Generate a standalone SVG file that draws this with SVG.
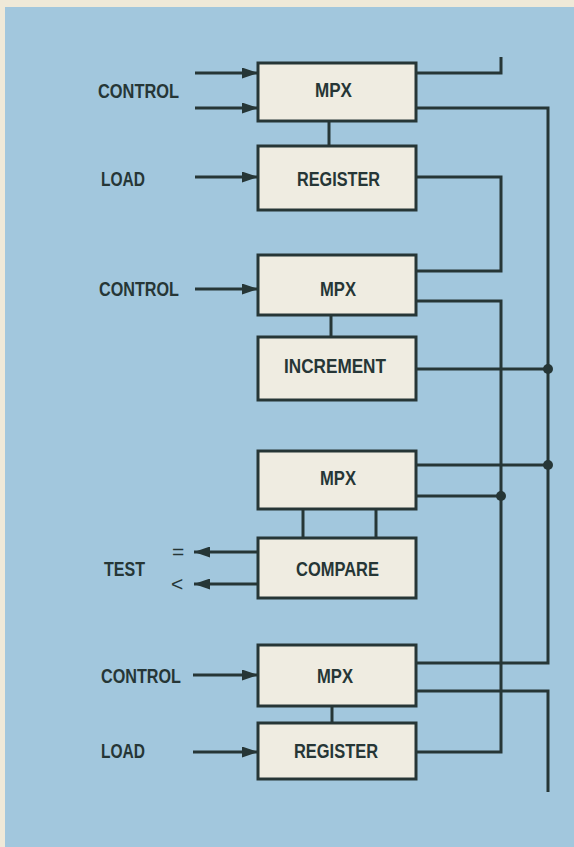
<svg xmlns="http://www.w3.org/2000/svg" width="574" height="847" viewBox="0 0 574 847">
<style>
.box{fill:#efece1;stroke:#263636;stroke-width:3}
.ln{fill:none;stroke:#263636;stroke-width:3}
.t{font-family:"Liberation Sans",Arial,sans-serif;font-weight:bold;font-size:21px;fill:#263636}
.s{font-family:"Liberation Sans",Arial,sans-serif;font-size:21px;fill:#263636}
.dot{fill:#263636}
</style>
<defs>
<marker id="ah" viewBox="0 0 16 11" refX="16" refY="5.5" markerWidth="16" markerHeight="11" markerUnits="userSpaceOnUse" orient="auto">
<path d="M0,0 L16,5.5 L0,11 z" fill="#263636"/>
</marker>
</defs>
<rect x="0" y="0" width="574" height="847" fill="#efe9d8"/>
<rect x="5" y="7" width="569" height="840" fill="#a2c7dd"/>

<g id="labels">
<text class="t" x="98" y="98" textLength="81" lengthAdjust="spacingAndGlyphs">CONTROL</text>
<text class="t" x="101" y="186" textLength="44" lengthAdjust="spacingAndGlyphs">LOAD</text>
<text class="t" x="99" y="296" textLength="80" lengthAdjust="spacingAndGlyphs">CONTROL</text>
<text class="t" x="104" y="576" textLength="41" lengthAdjust="spacingAndGlyphs">TEST</text>
<text class="s" x="172" y="559">=</text>
<text class="s" x="171" y="591">&lt;</text>
<text class="t" x="101" y="683" textLength="80" lengthAdjust="spacingAndGlyphs">CONTROL</text>
<text class="t" x="101" y="758" textLength="44" lengthAdjust="spacingAndGlyphs">LOAD</text>
</g>

<g id="connectors">
<line class="ln" x1="195" y1="73" x2="258" y2="73" marker-end="url(#ah)"/>
<line class="ln" x1="195" y1="108" x2="258" y2="108" marker-end="url(#ah)"/>
<line class="ln" x1="195" y1="177" x2="258" y2="177" marker-end="url(#ah)"/>
<line class="ln" x1="195" y1="289" x2="258" y2="289" marker-end="url(#ah)"/>
<line class="ln" x1="193" y1="675" x2="258" y2="675" marker-end="url(#ah)"/>
<line class="ln" x1="193" y1="752" x2="258" y2="752" marker-end="url(#ah)"/>
<line class="ln" x1="258" y1="552" x2="194" y2="552" marker-end="url(#ah)"/>
<line class="ln" x1="258" y1="584" x2="194" y2="584" marker-end="url(#ah)"/>

<path class="ln" d="M416,73 H501 V57"/>
<path class="ln" d="M416,108 H548 V663 H416"/>
<path class="ln" d="M416,177 H501 V271 H416"/>
<path class="ln" d="M416,301 H501 V752 H416"/>
<path class="ln" d="M416,369 H548"/>
<path class="ln" d="M416,465 H548"/>
<path class="ln" d="M416,496 H501"/>
<path class="ln" d="M416,691 H548 V792"/>

<line class="ln" x1="329" y1="121" x2="329" y2="146"/>
<line class="ln" x1="331" y1="315" x2="331" y2="337"/>
<line class="ln" x1="303" y1="509" x2="303" y2="538"/>
<line class="ln" x1="376" y1="509" x2="376" y2="538"/>
<line class="ln" x1="332" y1="706" x2="332" y2="723"/>

<circle class="dot" cx="548" cy="369" r="5"/>
<circle class="dot" cx="548" cy="465" r="5"/>
<circle class="dot" cx="501" cy="496" r="5"/>
</g>

<g id="mpx1"><rect class="box" x="258" y="63" width="158" height="58"/><text class="t" x="315" y="97" textLength="37" lengthAdjust="spacingAndGlyphs">MPX</text></g>
<g id="register1"><rect class="box" x="258" y="146" width="158" height="64"/><text class="t" x="297" y="186" textLength="83" lengthAdjust="spacingAndGlyphs">REGISTER</text></g>
<g id="mpx2"><rect class="box" x="258" y="255" width="158" height="60"/><text class="t" x="320" y="296" textLength="36" lengthAdjust="spacingAndGlyphs">MPX</text></g>
<g id="increment"><rect class="box" x="258" y="337" width="158" height="63"/><text class="t" x="284" y="373" textLength="102" lengthAdjust="spacingAndGlyphs">INCREMENT</text></g>
<g id="mpx3"><rect class="box" x="258" y="451" width="158" height="58"/><text class="t" x="320" y="485" textLength="36" lengthAdjust="spacingAndGlyphs">MPX</text></g>
<g id="compare"><rect class="box" x="258" y="538" width="158" height="60"/><text class="t" x="296" y="576" textLength="83" lengthAdjust="spacingAndGlyphs">COMPARE</text></g>
<g id="mpx4"><rect class="box" x="258" y="645" width="158" height="61"/><text class="t" x="317" y="683" textLength="36" lengthAdjust="spacingAndGlyphs">MPX</text></g>
<g id="register2"><rect class="box" x="258" y="723" width="158" height="56"/><text class="t" x="294" y="758" textLength="84" lengthAdjust="spacingAndGlyphs">REGISTER</text></g>
</svg>
